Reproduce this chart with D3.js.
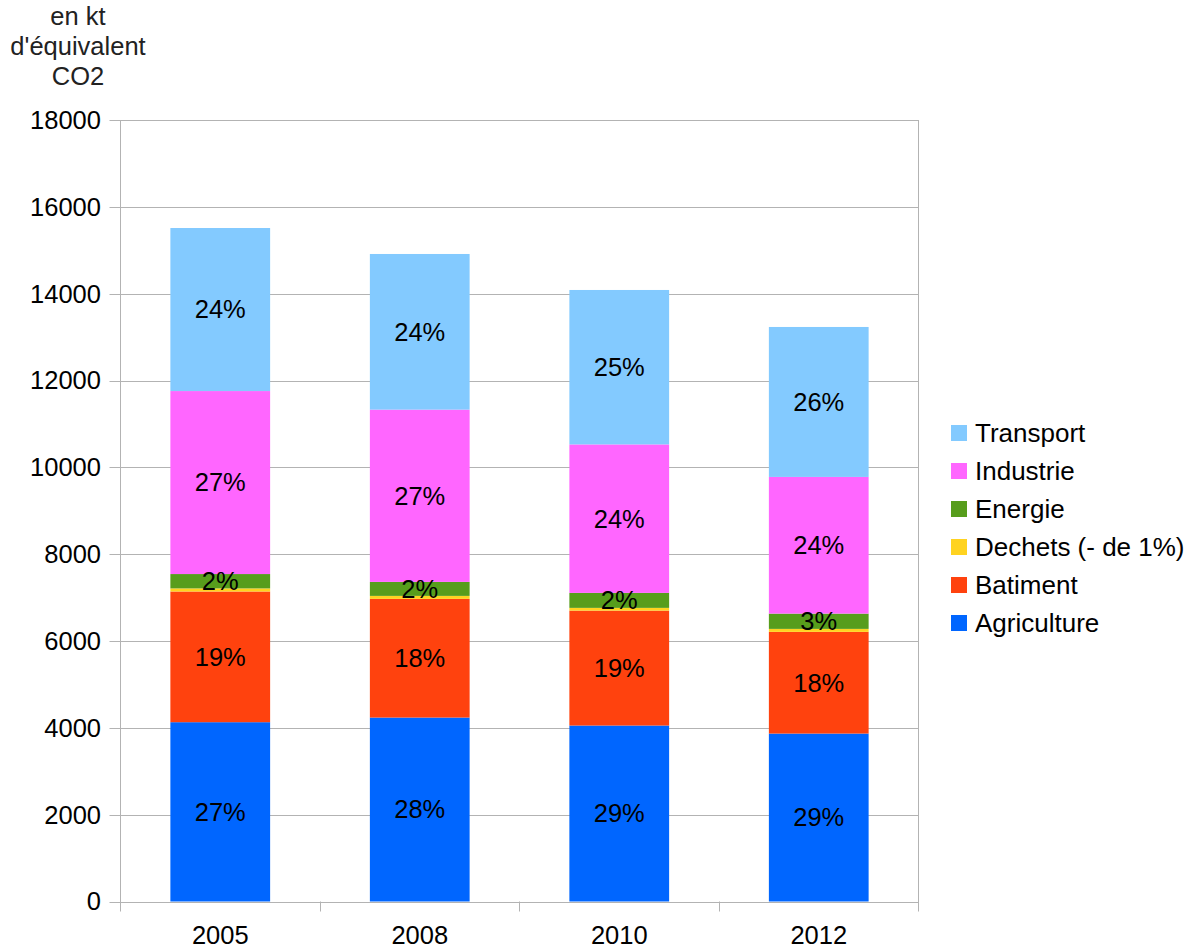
<!DOCTYPE html>
<html>
<head>
<meta charset="utf-8">
<script src="https://cdn.jsdelivr.net/npm/d3@7"></script>
<style>
body { margin:0; background:#fff; }
text { font-family: "Liberation Sans", Arial, sans-serif; }
</style>
</head>
<body>
<div id="chart"></div>
<script>
var years = ["2005", "2008", "2010", "2012"];
var series = ["Agriculture", "Batiment", "Dechets", "Energie", "Industrie", "Transport"];
var legendNames = ["Transport", "Industrie", "Energie", "Dechets (- de 1%)", "Batiment", "Agriculture"];
var colors = ["#0066ff", "#ff420e", "#ffd320", "#579d1c", "#ff66ff", "#83caff"];

var agriculture = [4130, 4237, 4053, 3868];
var batiment    = [3010, 2733, 2647, 2342];
var dechets     = [72, 69, 63, 69];
var energie     = [330, 322, 345, 352];
var industrie   = [4215, 3968, 3420, 3148];
var transport   = [3755, 3585, 3557, 3454];

var yTicks = [0, 2000, 4000, 6000, 8000, 10000, 12000, 14000, 16000, 18000];
var titleLines = ["en kt", "d'équivalent", "CO2"];

var W = 1198, H = 951;
var plot = {left:120.5, right:918.5, top:120, bottom:901.5};
var fs = "25.5px";

var svg = d3.select('#chart').append('svg')
	.attr("width", W)
	.attr("height", H);

// data table
var table = years.map(function(y, i){
	return {year:y, Agriculture:agriculture[i], Batiment:batiment[i], Dechets:dechets[i],
		Energie:energie[i], Industrie:industrie[i], Transport:transport[i]};
});
var stacked = d3.stack().keys(series)(table);

//scalers
var xscale = d3.scaleBand()
	.domain(years)
	.range([plot.left, plot.right])
	.paddingInner(0.5)
	.paddingOuter(0.25);
var yscale = d3.scaleLinear()
	.domain([0, 18000])
	.range([plot.bottom, plot.top]);

// grid
svg.append("g").selectAll("line")
	.data(yTicks)
	.enter().append("line")
	.attr("x1", plot.left - 11).attr("x2", plot.right)
	.attr("y1", function(d){ return Math.round(yscale(d)) + 0.5; })
	.attr("y2", function(d){ return Math.round(yscale(d)) + 0.5; })
	.style("stroke", "#b3b3b3")
	.style("stroke-width", "1px");

// category separators
var sep = [plot.left].concat(years.map(function(y){ return xscale(y) + xscale.bandwidth() + xscale.step()*0.25; }));
svg.append("g").selectAll("line")
	.data(sep)
	.enter().append("line")
	.attr("x1", function(d){ return Math.round(d - 0.5) + 0.5; })
	.attr("x2", function(d){ return Math.round(d - 0.5) + 0.5; })
	.attr("y1", function(d, i){ return (i == 0 || i == sep.length-1) ? plot.top : plot.bottom; })
	.attr("y2", plot.bottom + 10)
	.style("stroke", "#b3b3b3")
	.style("stroke-width", "1px");

// y labels
svg.append("g").selectAll("text")
	.data(yTicks)
	.enter().append("text")
	.attr("x", 101)
	.attr("y", function(d){ return yscale(d); })
	.attr("dy", "0.35em")
	.attr("text-anchor", "end")
	.style("font-size", fs)
	.attr("fill", "#000")
	.text(function(d){ return d; });

// x labels
svg.append("g").selectAll("text")
	.data(years)
	.enter().append("text")
	.attr("x", function(d){ return xscale(d) + xscale.bandwidth()/2; })
	.attr("y", 944)
	.attr("text-anchor", "middle")
	.style("font-size", fs)
	.attr("fill", "#000")
	.text(function(d){ return d; });

// bars
var layers = svg.append("g").selectAll("g")
	.data(stacked)
	.enter().append("g")
	.attr("fill", function(d, i){ return colors[i]; });

layers.selectAll("rect")
	.data(function(d){ return d; })
	.enter().append("rect")
	.attr("x", function(d){ return xscale(d.data.year); })
	.attr("width", xscale.bandwidth())
	.attr("y", function(d){ return yscale(d[1]); })
	.attr("height", function(d){ return yscale(d[0]) - yscale(d[1]); });

// percent labels
stacked.forEach(function(layer, li){
	if(series[li] == "Dechets") return;
	svg.append("g").selectAll("text")
		.data(layer)
		.enter().append("text")
		.attr("x", function(d){ return xscale(d.data.year) + xscale.bandwidth()/2; })
		.attr("y", function(d){ return (yscale(d[0]) + yscale(d[1]))/2; })
		.attr("dy", "0.35em")
		.attr("text-anchor", "middle")
		.style("font-size", fs)
		.attr("fill", "#000")
		.text(function(d, i){
			var tot = d3.sum(series, function(k){ return table[i][k]; });
			return Math.round((d[1]-d[0])/tot*100) + "%";
		});
});

// legend
var legend = svg.append("g").selectAll("g")
	.data(legendNames)
	.enter().append("g")
	.attr("transform", function(d, i){ return "translate(951," + (433 + i*38) + ")"; });
legend.append("rect")
	.attr("x", 0).attr("y", -8)
	.attr("width", 16).attr("height", 16)
	.attr("fill", function(d, i){ return colors[series.length-1-i]; });
legend.append("text")
	.attr("x", 24)
	.attr("dy", "0.35em")
	.style("font-size", "26px")
	.attr("fill", "#000")
	.text(function(d){ return d; });

// unit title
svg.append("g").selectAll("text")
	.data(titleLines)
	.enter().append("text")
	.attr("x", 78)
	.attr("y", function(d, i){ return 25 + i*30; })
	.attr("text-anchor", "middle")
	.style("font-size", fs)
	.attr("fill", "#222")
	.text(function(d){ return d; });
</script>
</body>
</html>
